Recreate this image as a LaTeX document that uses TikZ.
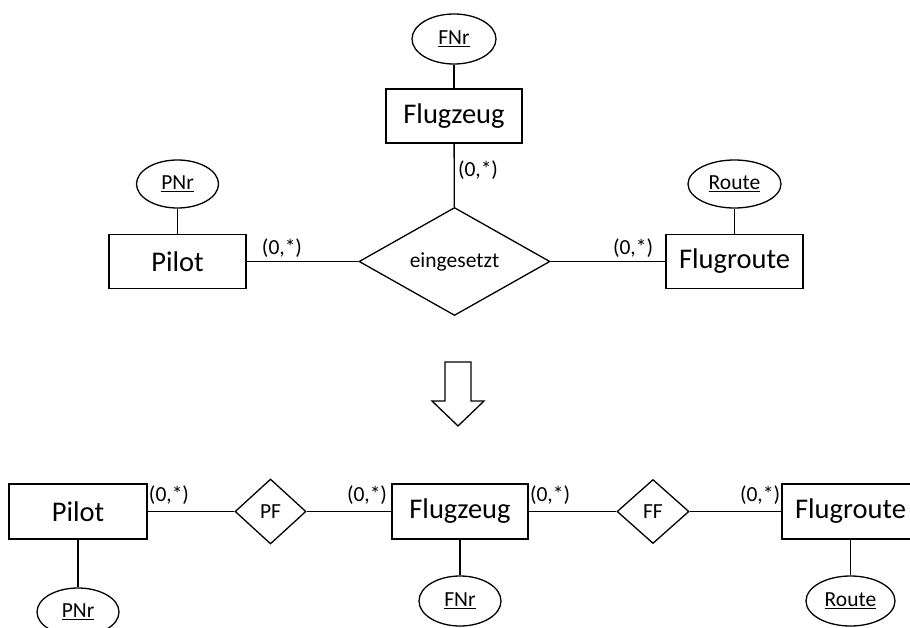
\documentclass[tikz,border=0pt]{standalone}
\usepackage{fontspec}
\setmainfont{Carlito}
\usetikzlibrary{shapes.geometric}
\usetikzlibrary{positioning}

\begin{document}
\begin{tikzpicture}[x=1pt, y=-1pt, line width=1.3pt,
  entity/.style={draw, rectangle, minimum width=137pt, minimum height=54pt, inner sep=0pt, font=\fontsize{28.5}{34}\selectfont},
  attrib/.style={draw, ellipse, minimum width=84pt, minimum height=50pt, inner sep=0pt, font=\fontsize{21.5}{26}\selectfont},
  relship/.style={draw, diamond, inner sep=0pt, font=\fontsize{21.5}{26}\selectfont},
  card/.style={inner sep=0pt, font=\fontsize{21.5}{26}\selectfont}]

 \clip (0,0) rectangle (910,628);

 %level 1
 \def\dy{261.5}

  \node[entity] (PilotA) at (177.5,\dy) {Pilot};
  \node[entity, minimum width=136pt] (FlugzeugA) at (454,116) {Flugzeug};
  \node[entity] (FlugrouteA) at (734.5,\dy) {Flugroute};
  \node[relship, minimum width=191pt, minimum height=108pt] (einges) at (454.5,\dy) {eingesetzt};

  \node[attrib, minimum width=82pt, minimum height=48pt] (PNrA) at (177.5,184) {\underline{PNr}};
  \node[attrib] (FNrA) at (454,39) {\underline{FNr}};
  \node[attrib, minimum width=93pt, minimum height=48pt] (RouteA) at (734.5,184) {\underline{Route}};

  \draw (PNrA) -- (PilotA);
  \draw (FNrA) -- (FlugzeugA);
  \draw (RouteA) -- (FlugrouteA);

  \draw (PilotA) -- (einges);
  \draw (FlugzeugA) -- (einges);
  \draw (einges) -- (FlugrouteA);

  \foreach \x/\y/\name in {282/248/PA, 478/170/FA, 633/248/RA} {
         \node[card] (c\name) at (\x,\y) {(0,*)};
  }

 %arrow
  \draw (445,362) -- (471,362) -- (471,401) -- (484,401) -- (458,426) -- (432,401) -- (445,401) -- cycle;

 %level 2
 \def\dy{511.5}

  \node[entity, minimum width=138pt, minimum height=55pt] (PilotB) at (78,\dy) {Pilot};
  \node[entity, minimum width=136pt, minimum height=55pt] (FlugzeugB) at (460,\dy) {Flugzeug};
  \node[entity, minimum height=55pt] (FlugrouteB) at (850.5,\dy) {Flugroute};
  \node[relship, minimum width=71pt, minimum height=65pt] (PF) at (270.5,\dy) {PF};
  \node[relship, minimum width=72pt, minimum height=64pt] (FF) at (653,\dy) {FF};

  \node[attrib, minimum width=82pt, minimum height=48pt] (PNrB) at (78,612) {\underline{PNr}};
  \node[attrib, minimum width=82pt] (FNrB) at (460,601) {\underline{FNr}};
  \node[attrib, minimum width=89pt] (RouteB) at (850.5,601) {\underline{Route}};

  \draw (PilotB) -- (PNrB);
  \draw (FlugzeugB) -- (FNrB);
  \draw (FlugrouteB) -- (RouteB);

  \draw (PilotB) -- (PF);
  \draw (PF) -- (FlugzeugB);
  \draw (FlugzeugB) -- (FF);
  \draw (FF) -- (FlugrouteB);

  \foreach \x/\y/\name in {169/495/PB, 367/495/FB1, 550/495/FB2, 760/495/RB} {
         \node[card] (c\name) at (\x,\y) {(0,*)};
  }

\end{tikzpicture}
\end{document}
